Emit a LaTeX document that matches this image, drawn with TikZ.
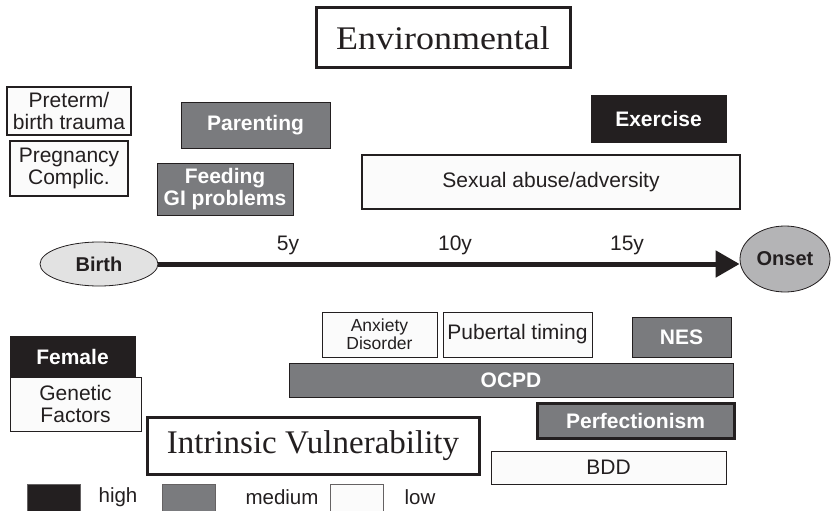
\documentclass[tikz,border=0pt]{standalone}
\usepackage{fontspec}
\setmainfont{Liberation Serif}
\setsansfont{Liberation Sans}
\usetikzlibrary{arrows.meta,shapes.geometric}
\definecolor{ink}{HTML}{231F20}
\definecolor{midgray}{HTML}{7A7B7E}
\definecolor{paleg}{HTML}{E2E2E2}
\definecolor{onsetg}{HTML}{B4B4B6}
\definecolor{offwhite}{HTML}{FBFBFB}
\tikzset{
  bx/.style={rectangle, inner sep=0pt, align=center, font=\sffamily\fontsize{21}{22}\selectfont, text=ink},
  lowbox/.style={bx, draw=ink, line width=0.9pt, fill=offwhite},
  medbox/.style={bx, draw=ink, line width=0.9pt, fill=midgray, text=white, font=\sffamily\bfseries\fontsize{21}{22}\selectfont},
  highbox/.style={bx, draw=ink, line width=0.9pt, fill=ink, text=white, font=\sffamily\bfseries\fontsize{21}{22}\selectfont},
  heavy/.style={line width=2.6pt},
  titlebox/.style={rectangle, draw=ink, line width=3pt, fill=white, inner sep=0pt, text=ink, font=\fontsize{33}{35}\selectfont},
  yearlbl/.style={font=\sffamily\fontsize{21}{22}\selectfont, text=ink, inner sep=0pt},
  legendsw/.style={rectangle, inner sep=0pt, draw=ink!70, line width=0.6pt, minimum width=53pt, minimum height=30pt},
  legendtxt/.style={font=\sffamily\fontsize{20.5}{22}\selectfont, text=ink, inner sep=0pt}
}
\begin{document}
\begin{tikzpicture}[x=1pt,y=-1pt]
\useasboundingbox (0,0) rectangle (835,511);
\begin{scope}
\clip (0,0) rectangle (835,511);

% headings
\node[titlebox, minimum width=254pt, minimum height=60pt] (env) at (443,38) {\scalebox{1.09}[1]{Environmental}};
\node[titlebox, minimum width=332pt, minimum height=57pt] (intr) at (313,445.5) {Intrinsic Vulnerability};

% environmental factors
\node[lowbox, heavy, minimum width=124pt, minimum height=48pt] (preterm) at (69,111) {Preterm/\\birth trauma};
\node[lowbox, heavy, minimum width=118pt, minimum height=55pt] (preg) at (69,168.5) {Pregnancy\\Complic.};
\node[medbox, minimum width=149pt, minimum height=46pt] (parent) at (255.5,125) {Parenting};
\node[medbox, minimum width=136pt, minimum height=52pt] (feed) at (225,189) {Feeding\\GI problems};
\node[highbox, minimum width=135pt, minimum height=47pt] (exer) at (658.5,118.5) {Exercise};
\node[lowbox, line width=2pt, minimum width=378pt, minimum height=54pt] (abuse) at (551,182) {Sexual abuse/adversity};

% timeline
\node[ellipse, draw=ink, line width=0.8pt, fill=paleg, minimum width=118pt, minimum height=44pt, inner sep=0pt,
      font=\sffamily\bfseries\fontsize{20}{22}\selectfont, text=ink] (birth) at (99,264) {Birth};
\node[ellipse, draw=ink, line width=0.8pt, fill=onsetg, minimum width=90pt, minimum height=66pt, inner sep=0pt,
      font=\sffamily\bfseries\fontsize{20}{22}\selectfont, text=ink] (onset) at (785,259) {Onset};
\draw[ink, line width=5pt, -{Triangle[length=24pt,width=26pt]}] (birth.east) -- (onset.west |- birth.east);
\node[yearlbl] (y5) at (288,245) {5y};
\node[yearlbl] (y10) at (455,245) {10y};
\node[yearlbl] (y15) at (627,245) {15y};

% intrinsic factors
\node[highbox, minimum width=125pt, minimum height=41pt] (female) at (72.5,356.5) {Female};
\node[lowbox, minimum width=131pt, minimum height=54pt] (genetic) at (75.5,404) {Genetic\\Factors};
\node[lowbox, minimum width=115pt, minimum height=45pt, font=\sffamily\fontsize{17.5}{18}\selectfont] (anx) at (379.5,334.5) {Anxiety\\Disorder};
\node[lowbox, minimum width=149pt, minimum height=45pt] (pub) at (517.5,334.5) {Pubertal timing};
\node[medbox, minimum width=99pt, minimum height=40pt] (nes) at (681.5,337) {NES};
\node[medbox, minimum width=444pt, minimum height=34pt] (ocpd) at (511,380) {OCPD};
\node[medbox, line width=3pt, minimum width=197pt, minimum height=35pt] (perf) at (635.5,420.5) {Perfectionism};
\node[lowbox, minimum width=235pt, minimum height=33pt] (bdd) at (608.5,467.5) {BDD};

% legend
\node[legendsw, fill=ink] (lhigh) at (53.5,499) {};
\node[legendtxt] (thigh) at (118,497) {high};
\node[legendsw, fill=midgray] (lmed) at (188.5,499) {};
\node[legendtxt] (tmed) at (282,497) {medium};
\node[legendsw, fill=offwhite] (llow) at (356.5,499) {};
\node[legendtxt] (tlow) at (420,497) {low};
\end{scope}
\end{tikzpicture}
\end{document}
